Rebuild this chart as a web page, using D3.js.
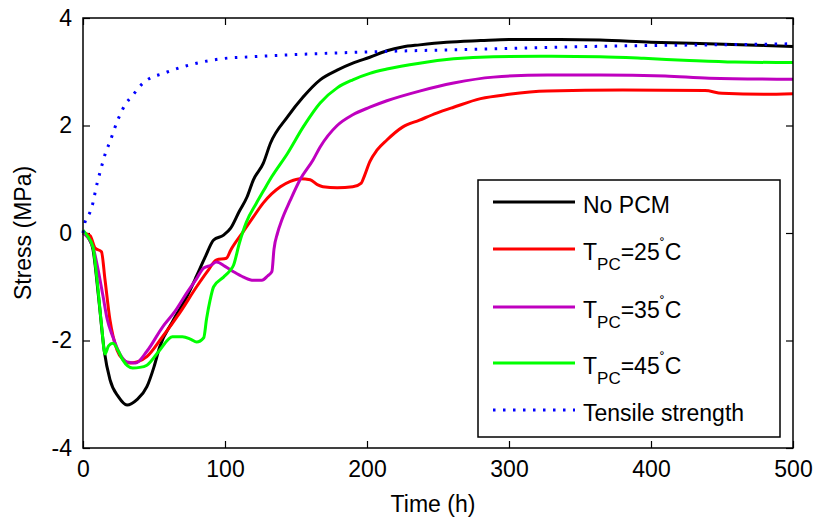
<!DOCTYPE html>
<html>
<head>
<meta charset="utf-8">
<script src="https://cdn.jsdelivr.net/npm/d3@7"></script>
<style>
  body { margin: 0; background: #fff; }
  text { font-family: "Liberation Sans", Arial, sans-serif; fill: #000; }
</style>
</head>
<body>
<div id="chart"></div>
<script>
// Chart data: [time (h), stress (MPa)]
var noPcm = [[0,0],[4,-0.1],[7,-0.3],[11,-1.2],[15,-2.2],[19,-2.73],[25,-3.05],[31,-3.2],[38,-3.1],[45,-2.86],[50,-2.49],[54,-2.12],[63,-1.65],[73,-1.19],[80,-0.8],[86,-0.45],[92,-0.13],[99,-0.04],[104,0.09],[110,0.4],[115.5,0.67],[120,0.99],[127,1.3],[132,1.67],[144,2.16],[155,2.53],[167,2.85],[179,3.03],[190,3.16],[202,3.27],[214,3.39],[225,3.46],[237,3.5],[256,3.55],[280,3.58],[300,3.6],[336,3.6],[364,3.59],[400,3.55],[440,3.52],[480,3.49],[500,3.47]];
var tpc25 = [[0,0],[5,-0.05],[8.5,-0.28],[13,-0.35],[15.5,-0.87],[19,-1.62],[24,-2.18],[28,-2.35],[33,-2.42],[38,-2.4],[45,-2.3],[56,-1.93],[68,-1.49],[80,-1.0],[88,-0.7],[94,-0.5],[101,-0.47],[104,-0.32],[113,0.03],[120,0.3],[127,0.56],[139,0.86],[146,0.96],[153,1.01],[160,0.99],[165,0.9],[169,0.86],[179,0.84],[190,0.86],[196,0.93],[198,1.05],[202,1.33],[207,1.54],[214,1.73],[225,1.97],[237,2.1],[249,2.23],[261,2.34],[280,2.5],[300,2.58],[327,2.64],[380,2.66],[438,2.65],[450,2.6],[480,2.58],[500,2.59]];
var tpc35 = [[0,0],[7,-0.26],[10,-0.6],[14,-1.16],[17,-1.6],[21,-1.93],[26,-2.25],[31,-2.4],[37,-2.42],[45,-2.2],[56,-1.75],[65,-1.45],[73,-1.12],[80,-0.85],[85,-0.65],[90,-0.6],[94,-0.54],[100,-0.62],[106,-0.72],[113,-0.82],[120,-0.88],[126,-0.88],[130,-0.8],[133,-0.72],[134.5,-0.3],[137,0.0],[140,0.24],[146,0.61],[153,1.0],[162,1.36],[167,1.6],[179,2.0],[190,2.2],[202,2.34],[214,2.46],[237,2.64],[261,2.79],[289,2.9],[327,2.94],[364,2.94],[410,2.92],[441,2.88],[500,2.86]];
var tpc45 = [[0,0.05],[3,-0.05],[7,-0.26],[10,-0.9],[13,-1.7],[15.5,-2.25],[18,-2.1],[21,-2.05],[25,-2.2],[28,-2.36],[35,-2.51],[40,-2.5],[45,-2.46],[54,-2.18],[63,-1.93],[70,-1.93],[76,-1.98],[80,-2.03],[85,-1.95],[87,-1.6],[89.5,-1.25],[92,-1.0],[99,-0.82],[103.5,-0.7],[106,-0.6],[110,-0.2],[115,0.2],[122,0.55],[127,0.78],[133,1.05],[144,1.48],[155,1.97],[167,2.42],[179,2.7],[190,2.85],[202,2.97],[214,3.05],[237,3.16],[261,3.24],[289,3.28],[330,3.29],[364,3.28],[395,3.25],[427,3.21],[459,3.18],[500,3.17]];
var tensile = [[0,0],[1.4,0.2],[5,0.39],[7,0.56],[8.5,0.75],[10,0.93],[12,1.13],[16,1.5],[19,1.7],[24,2.07],[30,2.4],[35.6,2.58],[41.5,2.77],[48.6,2.9],[55.6,2.96],[63,3.03],[70,3.09],[77,3.14],[97,3.24],[120,3.28],[150,3.32],[202,3.37],[280,3.42],[378,3.48],[440,3.5],[500,3.52]];

var xTicks = [0, 100, 200, 300, 400, 500];
var yTicks = [-4, -2, 0, 2, 4];

// Series in drawing order (same as the legend)
var series = [
  { data: noPcm, color: "#000000", dash: null, label: ["No PCM"] },
  { data: tpc25, color: "#ff0000", dash: null, label: ["T", "PC", "=25", "˚", "C"] },
  { data: tpc35, color: "#bf00bf", dash: null, label: ["T", "PC", "=35", "˚", "C"] },
  { data: tpc45, color: "#00ff00", dash: null, label: ["T", "PC", "=45", "˚", "C"] },
  { data: tensile, color: "#0000ff", dash: "2.5,7.5", label: ["Tensile strength"] }
];

var svgWidth = 815;
var svgHeight = 521;
var margin = { top: 18, right: 22, bottom: 73, left: 83 };
var chartWidth = svgWidth - margin.left - margin.right;
var chartHeight = svgHeight - margin.top - margin.bottom;

var svg = d3.select("#chart")
  .append("svg")
  .attr("width", svgWidth)
  .attr("height", svgHeight);

var chartGroup = svg.append("g")
  .attr("transform", `translate(${margin.left}, ${margin.top})`);

var xScale = d3.scaleLinear().domain([0, 500]).range([0, chartWidth]);
var yScale = d3.scaleLinear().domain([-4, 4]).range([chartHeight, 0]);

// plain hyphen for negative labels, like the original
var plainFormat = d => String(d);

// axes, ticks pointing inward on all four sides
function styleAxis(g) {
  g.select(".domain").remove();
  g.selectAll("line").attr("stroke", "#000").attr("stroke-width", 1.2);
  g.selectAll("text").attr("font-size", "23px").attr("font-family", "Liberation Sans, Arial, sans-serif");
}

chartGroup.append("g")
  .attr("transform", `translate(0, ${chartHeight})`)
  .call(d3.axisBottom(xScale).tickValues(xTicks).tickFormat(plainFormat).tickSizeInner(-7).tickSizeOuter(0).tickPadding(13))
  .call(styleAxis);

chartGroup.append("g")
  .call(d3.axisTop(xScale).tickValues(xTicks).tickSizeInner(-7).tickSizeOuter(0).tickFormat(""))
  .call(styleAxis);

chartGroup.append("g")
  .call(d3.axisLeft(yScale).tickValues(yTicks).tickFormat(plainFormat).tickSizeInner(-7).tickSizeOuter(0).tickPadding(11))
  .call(styleAxis);

chartGroup.append("g")
  .attr("transform", `translate(${chartWidth}, 0)`)
  .call(d3.axisRight(yScale).tickValues(yTicks).tickSizeInner(-7).tickSizeOuter(0).tickFormat(""))
  .call(styleAxis);

// data lines
var line = d3.line()
  .x(d => xScale(d[0]))
  .y(d => yScale(d[1]))
  .curve(d3.curveMonotoneX);

series.forEach(function(s) {
  chartGroup.append("path")
    .datum(s.data)
    .attr("fill", "none")
    .attr("stroke", s.color)
    .attr("stroke-width", 3)
    .attr("stroke-dasharray", s.dash)
    .attr("d", line);
});

// plot frame
chartGroup.append("rect")
  .attr("width", chartWidth)
  .attr("height", chartHeight)
  .attr("fill", "none")
  .attr("stroke", "#000")
  .attr("stroke-width", 1.5);

// axis titles
chartGroup.append("text")
  .attr("x", 433 - margin.left)
  .attr("y", chartHeight + 64)
  .attr("text-anchor", "middle")
  .attr("font-size", "23px")
  .text("Time (h)");

chartGroup.append("text")
  .attr("transform", "rotate(-90)")
  .attr("x", -chartHeight / 2)
  .attr("y", -52)
  .attr("text-anchor", "middle")
  .attr("font-size", "23px")
  .text("Stress (MPa)");

// legend
var legend = chartGroup.append("g")
  .attr("transform", `translate(${478 - margin.left}, ${180 - margin.top})`);

legend.append("rect")
  .attr("width", 302)
  .attr("height", 257)
  .attr("fill", "#fff")
  .attr("stroke", "#000")
  .attr("stroke-width", 1.5);

var rowY = [22, 69, 127, 183, 230];

series.forEach(function(s, i) {
  var row = legend.append("g").attr("transform", `translate(0, ${rowY[i]})`);
  row.append("line")
    .attr("x1", 15).attr("x2", 97)
    .attr("y1", 0).attr("y2", 0)
    .attr("stroke", s.color)
    .attr("stroke-width", 3)
    .attr("stroke-dasharray", s.dash);

  var t = row.append("text")
    .attr("x", 105)
    .attr("y", 11)
    .attr("font-size", "23px");

  if (s.label.length === 1) {
    t.text(s.label[0]);
  } else {
    t.append("tspan").text(s.label[0]);
    t.append("tspan").attr("dy", 10).attr("font-size", "17px").text(s.label[1]);
    t.append("tspan").attr("dy", -10).text(s.label[2]);
    t.append("tspan").attr("dy", -11).attr("font-size", "15px").text(s.label[3]);
    t.append("tspan").attr("dy", 11).text(s.label[4]);
  }
});
</script>
</body>
</html>
